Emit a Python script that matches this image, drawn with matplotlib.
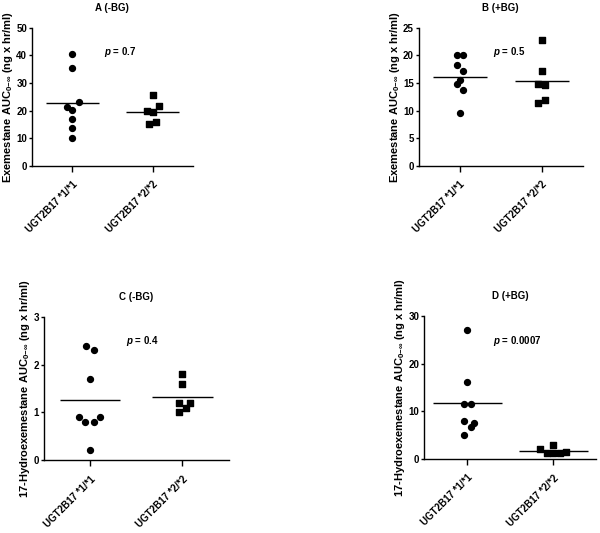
import matplotlib
matplotlib.use("Agg")
import matplotlib.pyplot as plt
from matplotlib import font_manager
import numpy as np

fontSize = 7
labelSize = 8

names = {f.name for f in font_manager.fontManager.ttflist}
fontName = "Liberation Sans Narrow" if "Liberation Sans Narrow" in names else "Liberation Sans"
plt.rcParams['font.family'] = [fontName, 'DejaVu Sans']
plt.rcParams['font.weight'] = 'bold'
plt.rcParams['mathtext.fontset'] = 'custom'
plt.rcParams['mathtext.rm'] = fontName + ':bold'
plt.rcParams['mathtext.it'] = fontName + ':italic:bold'
plt.rcParams['mathtext.bf'] = fontName + ':bold'

groups = ["UGT2B17 *1/*1", "UGT2B17 *2/*2"]

# A (-BG): exemestane
A_11 = [40.5, 35.5, 23.0, 21.2, 20.3, 16.8, 13.5, 10.2]
A_22 = [25.5, 21.7, 20.0, 19.5, 16.0, 15.2]
# B (+BG): exemestane
B_11 = [20.0, 20.0, 18.3, 17.2, 15.5, 14.8, 13.8, 9.6]
B_22 = [22.7, 17.2, 14.8, 14.6, 11.9, 11.3]
# C (-BG): 17-hydroexemestane
C_11 = [2.4, 2.3, 1.7, 0.9, 0.9, 0.8, 0.8, 0.2]
C_22 = [1.8, 1.6, 1.2, 1.2, 1.1, 1.0]
# D (+BG): 17-hydroexemestane
D_11 = [27.0, 16.2, 11.6, 11.6, 7.9, 7.6, 6.6, 5.1]
D_22 = [2.9, 2.1, 1.2, 1.2, 1.2, 1.5]

pValues = ["0.7", "0.5", "0.4", "0.0007"]

# scatter offsets so overlapping points stay visible
jitA_11 = [0, 0, 0.085, -0.07, 0, 0, 0, 0]
jitA_22 = [0, 0.085, -0.075, 0, 0.04, -0.04]
jitB_11 = [-0.035, 0.035, -0.035, 0.035, 0, -0.035, 0.035, 0]
jitB_22 = [0, 0, -0.04, 0.04, 0.04, -0.04]
jitC_11 = [-0.045, 0.04, 0, -0.12, 0.11, -0.05, 0.04, 0]
jitC_22 = [0, 0, -0.04, 0.08, 0.04, -0.04]
jitD_11 = [0, 0, -0.04, 0.04, -0.04, 0.08, 0.04, -0.04]
jitD_22 = [0, -0.15, -0.077, 0, 0.077, 0.15]

exeLabel = r'Exemestane AUC$_{0\mathrm{-}\infty}$ (ng x hr/ml)'
hydLabel = r'17-Hydroexemestane AUC$_{0\mathrm{-}\infty}$ (ng x hr/ml)'

panels = [
    dict(title="A (-BG)", d1=A_11, d2=A_22, j1=jitA_11, j2=jitA_22, ylabel=exeLabel,
         ymax=50, ystep=10, rect=[0.0533, 0.689, 0.268, 0.259], half=0.33, pxy=(0.40, 41.3), lx=-0.104),
    dict(title="B (+BG)", d1=B_11, d2=B_22, j1=jitB_11, j2=jitB_22, ylabel=exeLabel,
         ymax=25, ystep=5, rect=[0.698, 0.689, 0.273, 0.259], half=0.33, pxy=(0.40, 20.6), lx=-0.104),
    dict(title="C (-BG)", d1=C_11, d2=C_22, j1=jitC_11, j2=jitC_22, ylabel=hydLabel,
         ymax=3, ystep=1, rect=[0.073, 0.137, 0.308, 0.268], half=0.33, pxy=(0.39, 2.5), lx=-0.065),
    dict(title="D (+BG)", d1=D_11, d2=D_22, j1=jitD_11, j2=jitD_22, ylabel=hydLabel,
         ymax=30, ystep=10, rect=[0.707, 0.139, 0.287, 0.268], half=0.40, pxy=(0.30, 24.75), lx=-0.099),
]

fig = plt.figure(figsize=(6, 5.33), dpi=100)

for i, p in enumerate(panels):
    ax = fig.add_axes(p['rect'])
    ax.scatter(np.array(p['j1']) + 0, p['d1'], marker='o', s=18, color='black', zorder=3)
    ax.scatter(np.array(p['j2']) + 1, p['d2'], marker='s', s=16, color='black', zorder=3)
    for x, d in [(0, p['d1']), (1, p['d2'])]:
        m = np.mean(d)
        ax.hlines(m, x - p['half'], x + p['half'], color='black', linewidth=1.0, zorder=2)

    ax.set_xlim(-0.5, 1.5)
    ax.set_ylim(0, p['ymax'])
    ax.set_yticks(np.arange(0, p['ymax'] + p['ystep'] / 2, p['ystep']))
    ax.set_xticks([0, 1])
    ax.set_xticklabels(groups, rotation=45, ha='right', rotation_mode='anchor',
                       fontsize=fontSize, fontweight='bold')
    ax.tick_params(axis='y', labelsize=fontSize, length=2.5, width=1, pad=1)
    ax.tick_params(axis='x', length=4, width=1, pad=6)
    for lab in ax.get_yticklabels():
        lab.set_fontweight('bold')

    ax.spines['top'].set_visible(False)
    ax.spines['right'].set_visible(False)
    ax.spines['left'].set_linewidth(1)
    ax.spines['bottom'].set_linewidth(1)

    ax.set_ylabel(p['ylabel'], fontsize=labelSize, fontweight='bold')
    ax.yaxis.set_label_coords(p['lx'], 0.5)
    ax.set_title(p['title'], fontsize=fontSize, fontweight='bold', pad=12)
    ax.text(p['pxy'][0], p['pxy'][1], r'$p$ = ' + pValues[i], fontsize=fontSize,
            fontweight='bold', va='center', ha='left')

fig.savefig("out.png", dpi=100)
